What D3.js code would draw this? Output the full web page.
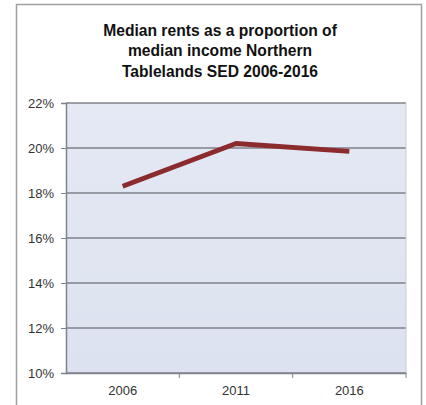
<!DOCTYPE html>
<html>
<head>
<meta charset="utf-8">
<script src="https://cdn.jsdelivr.net/npm/d3@7"></script>
<style>
  html, body { margin: 0; padding: 0; background: #ffffff; }
  svg { display: block; }
</style>
</head>
<body>
<svg id="chart" width="426" height="405"></svg>
<script>
// Median rent as a share of median income, by census year
const years = ["2006", "2011", "2016"];
const rentShare = [0.183, 0.202, 0.1985];
const yTicks = [0.10, 0.12, 0.14, 0.16, 0.18, 0.20, 0.22];
const titleLines = [
  "Median rents as a proportion of",
  "median income Northern",
  "Tablelands SED 2006-2016"
];

const svg = d3.select("#chart");
const plot = { left: 66, top: 103, right: 406, bottom: 373 };
const font = "'Liberation Sans', Arial, sans-serif";

// outer chart frame
svg.append("rect")
  .attr("x", 16.5).attr("y", 4.5)
  .attr("width", 405).attr("height", 410)
  .attr("fill", "#ffffff")
  .attr("stroke", "#a0a0a0").attr("stroke-width", 1.5);

// title, slightly condensed
const cx = 220;
svg.append("g")
  .attr("transform", `translate(${cx},0) scale(0.92,1)`)
  .append("text")
  .attr("text-anchor", "middle")
  .attr("font-family", font)
  .attr("font-weight", "bold")
  .attr("font-size", 17)
  .attr("fill", "#111")
  .selectAll("tspan")
  .data(titleLines)
  .join("tspan")
  .attr("x", 0)
  .attr("y", (d, i) => 36 + i * 20.5)
  .text(d => d);

const x = d3.scaleBand().domain(years).range([plot.left, plot.right]);
const y = d3.scaleLinear().domain([0.10, 0.22]).range([plot.bottom, plot.top]);

// plot area background
const grad = svg.append("defs").append("linearGradient")
  .attr("id", "bg").attr("x1", 0).attr("y1", 0).attr("x2", 0).attr("y2", 1);
grad.append("stop").attr("offset", "0%").attr("stop-color", "#e4e9f4");
grad.append("stop").attr("offset", "100%").attr("stop-color", "#dce2ef");

svg.append("rect")
  .attr("x", plot.left).attr("y", plot.top)
  .attr("width", plot.right - plot.left).attr("height", plot.bottom - plot.top)
  .attr("fill", "url(#bg)");

// horizontal gridlines
svg.append("g")
  .selectAll("line")
  .data(yTicks)
  .join("line")
  .attr("x1", plot.left).attr("x2", plot.right)
  .attr("y1", d => y(d)).attr("y2", d => y(d))
  .attr("stroke", "#7f8288").attr("stroke-width", 1.5);

// right edge of plot area
svg.append("line")
  .attr("x1", plot.right).attr("x2", plot.right)
  .attr("y1", plot.top).attr("y2", plot.bottom)
  .attr("stroke", "#c8ccd6").attr("stroke-width", 1);

// y axis
const yAxis = svg.append("g")
  .attr("transform", `translate(${plot.left},0)`)
  .call(d3.axisLeft(y).tickValues(yTicks).tickFormat(d3.format(".0%")).tickSize(5).tickPadding(7));
yAxis.select(".domain").attr("stroke", "#80838a").attr("stroke-width", 1.5);
yAxis.selectAll(".tick line").attr("stroke", "#80838a").attr("stroke-width", 1);
yAxis.selectAll("text")
  .attr("font-family", font)
  .attr("font-size", 13)
  .attr("fill", "#333");

// x axis with ticks between categories
const xAxis = svg.append("g")
  .attr("transform", `translate(0,${plot.bottom})`)
  .call(d3.axisBottom(x).tickSize(0).tickPadding(13));
xAxis.select(".domain").attr("stroke", "#80838a").attr("stroke-width", 1.5);
xAxis.selectAll("text")
  .attr("font-family", font)
  .attr("font-size", 13)
  .attr("fill", "#333");
xAxis.selectAll(".sep")
  .data(years.map(d => x(d) + x.bandwidth()))
  .join("line")
  .attr("class", "sep")
  .attr("x1", d => d).attr("x2", d => d)
  .attr("y1", 0).attr("y2", 5)
  .attr("stroke", "#80838a").attr("stroke-width", 1);

// data line
const line = d3.line()
  .x((d, i) => x(years[i]) + x.bandwidth() / 2)
  .y(d => y(d));

svg.append("path")
  .datum(rentShare)
  .attr("d", line)
  .attr("fill", "none")
  .attr("stroke", "#8c2b2e")
  .attr("stroke-width", 5)
  .attr("stroke-linejoin", "round");
</script>
</body>
</html>
